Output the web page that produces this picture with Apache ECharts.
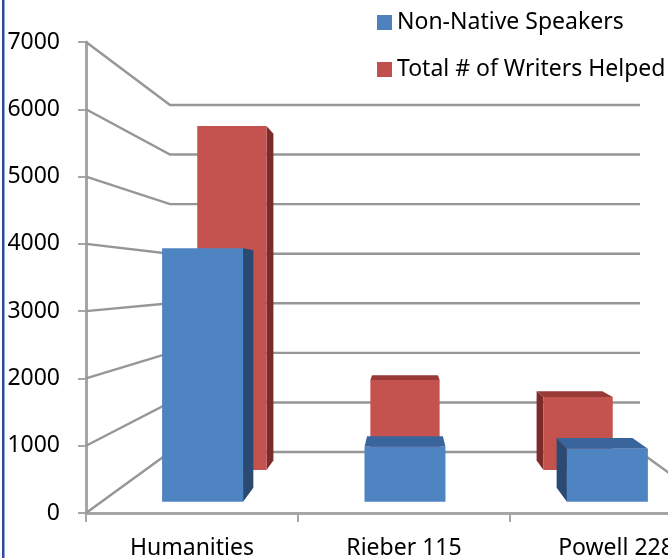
<!DOCTYPE html>
<html>
<head>
<meta charset="utf-8">
<script src="https://cdn.jsdelivr.net/npm/echarts@6/dist/echarts.min.js"></script>
<style>
html,body{margin:0;padding:0;background:#fff;}
#c{width:668px;height:558px;}
</style>
</head>
<body>
<div id="c"></div>
<script>
// ---- data ----
const categories = ['Humanities', 'Rieber 115', 'Powell 228'];
const nonNativeSpeakers = [3960, 860, 830];
const totalWritersHelped = [6280, 1640, 1330];
const yTicks = [0, 1000, 2000, 3000, 4000, 5000, 6000, 7000];

// ---- layout (back wall grid and front axis grid) ----
const BACK = {left: 170, top: 105, width: 470, height: 347};
const FRONT = {left: 86, top: 42, width: 636, height: 471};
const SF = FRONT.height / BACK.height;
const V = [(FRONT.left - SF * BACK.left) / (1 - SF), (FRONT.top - SF * BACK.top) / (1 - SF)];
function proj(p, s) { return [V[0] + s * (p[0] - V[0]), V[1] + s * (p[1] - V[1])]; }

const FONT = 'Noto Sans';
const GRID_COLOR = '#969696';

function gridRender(params, api) {
  const v = api.value(1);
  const cs = params.coordSys;
  const yb = api.coord([0, v])[1];
  const x0 = cs.x, x1 = cs.x + cs.width;
  const pts = [proj([x0, yb], SF), [x0, yb], [x1, yb]];
  if (v === 0) pts.push(proj([x1, yb], SF));
  return {
    type: 'polyline',
    shape: {points: pts},
    style: {stroke: GRID_COLOR, lineWidth: 2.4, fill: null}
  };
}

function makeBarRender(sf, sb, colors) {
  return function (params, api) {
    const i = api.value(0), v = api.value(1);
    const c = api.coord([i, v]);
    const c0 = api.coord([i, 0]);
    const half = api.size([1, 0])[0] * 0.2;
    const xl = c[0] - half, xr = c[0] + half, yt = c[1], yb = c0[1];
    const FTL = proj([xl, yt], sf), FTR = proj([xr, yt], sf), FBR = proj([xr, yb], sf), FBL = proj([xl, yb], sf);
    const BTL = proj([xl, yt], sb), BTR = proj([xr, yt], sb), BBR = proj([xr, yb], sb), BBL = proj([xl, yb], sb);
    const ch = [];
    if (xr < V[0]) ch.push({type: 'polygon', shape: {points: [FTR, BTR, BBR, FBR]}, style: {fill: colors.side}});
    if (xl > V[0]) ch.push({type: 'polygon', shape: {points: [FTL, BTL, BBL, FBL]}, style: {fill: colors.side}});
    if (yt > V[1]) ch.push({type: 'polygon', shape: {points: [FTL, FTR, BTR, BTL]}, style: {fill: colors.top}});
    ch.push({type: 'polygon', shape: {points: [FTL, FTR, FBR, FBL]}, style: {fill: colors.front}});
    return {type: 'group', children: ch};
  };
}

const chart = echarts.init(document.getElementById('c'), null, {renderer: 'canvas'});
chart.setOption({
  backgroundColor: '#ffffff',
  animation: false,
  graphic: [{type: 'rect', shape: {x: 2, y: 0, width: 2.5, height: 558}, style: {fill: '#2c4aa3'}, silent: true}],
  legend: {
    orient: 'vertical', left: 372, top: 6, itemWidth: 15, itemHeight: 15, itemGap: 24,
    icon: 'rect',
    textStyle: {fontFamily: FONT, fontSize: 23, color: '#000', lineHeight: 23},
    data: ['Non-Native Speakers', 'Total # of Writers Helped']
  },
  grid: [
    {left: BACK.left, top: BACK.top, width: BACK.width, height: BACK.height, outerBoundsMode: 'none', containLabel: false},
    {left: FRONT.left, top: FRONT.top, width: FRONT.width, height: FRONT.height, outerBoundsMode: 'none', containLabel: false}
  ],
  xAxis: [
    {type: 'category', gridIndex: 0, data: categories, show: false},
    {type: 'category', gridIndex: 1, data: categories,
      axisLine: {show: true, lineStyle: {color: '#a6a6a6', width: 3}},
      axisTick: {show: true, length: 9, lineStyle: {color: '#a6a6a6', width: 2}},
      axisLabel: {fontFamily: FONT, fontSize: 23, color: '#000', margin: 24, interval: 0},
      splitLine: {show: false}}
  ],
  yAxis: [
    {type: 'value', gridIndex: 0, min: 0, max: 7000, interval: 1000, show: false},
    {type: 'value', gridIndex: 1, min: 0, max: 7000, interval: 1000,
      axisLine: {show: true, lineStyle: {color: '#a6a6a6', width: 3}},
      axisTick: {show: true, length: 8, lineStyle: {color: '#a6a6a6', width: 2}},
      axisLabel: {fontFamily: FONT, fontSize: 23, color: '#000', margin: 26, formatter: v => String(v)},
      splitLine: {show: false}}
  ],
  series: [
    {type: 'custom', name: 'grid', xAxisIndex: 0, yAxisIndex: 0, z: 1, silent: true,
      renderItem: gridRender, data: yTicks.map(v => [0, v])},
    {type: 'custom', name: 'Total # of Writers Helped', xAxisIndex: 0, yAxisIndex: 0, z: 2,
      itemStyle: {color: '#c0504d'},
      renderItem: makeBarRender(1.105, 1.05, {front: '#c4524e', side: '#7d2b29', top: '#9a3a37'}),
      data: totalWritersHelped.map((v, i) => [i, v])},
    {type: 'custom', name: 'Non-Native Speakers', xAxisIndex: 0, yAxisIndex: 0, z: 3,
      itemStyle: {color: '#4f81bd'},
      renderItem: makeBarRender(1.292, 1.21, {front: '#4f84c2', side: '#2a4a74', top: '#3a659c'}),
      data: nonNativeSpeakers.map((v, i) => [i, v])}
  ]
});
</script>
</body>
</html>
